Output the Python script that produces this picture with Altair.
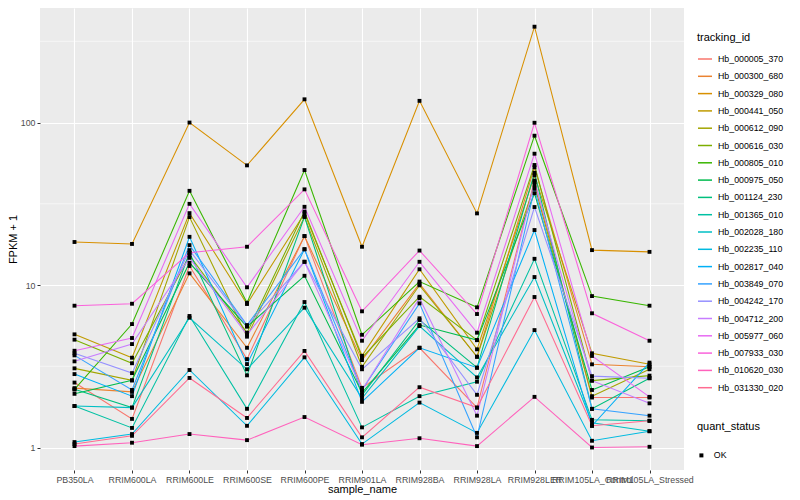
import altair as alt
import pandas as pd

samples = ["PB350LA", "RRIM600LA", "RRIM600LE", "RRIM600SE", "RRIM600PE", "RRIM901LA",
           "RRIM928BA", "RRIM928LA", "RRIM928LER", "RRIM105LA_Control", "RRIM105LA_Stressed"]

ids = ["Hb_000005_370", "Hb_000300_680", "Hb_000329_080", "Hb_000441_050", "Hb_000612_090",
       "Hb_000616_030", "Hb_000805_010", "Hb_000975_050", "Hb_001124_230", "Hb_001365_010",
       "Hb_002028_180", "Hb_002235_110", "Hb_002817_040", "Hb_003849_070", "Hb_004242_170",
       "Hb_004712_200", "Hb_005977_060", "Hb_007933_030", "Hb_010620_030", "Hb_031330_020"]

colors = ["#F8766D", "#EA8331", "#D89000", "#C09B00", "#A3A500", "#7CAE00", "#39B600", "#00BB4E",
          "#00BF7D", "#00C1A3", "#00BFC4", "#00BAE0", "#00B0F6", "#35A2FF", "#9590FF", "#C77CFF",
          "#E76BF3", "#FA62DB", "#FF62BC", "#FF6C91"]

# FPKM + 1 per sample (same order as samples)
hb_000005_370 = [2.51, 1.50, 13.1, 3.50, 20.0, 2.33, 4.11, 1.76, 43.9, 2.03, 2.03]
hb_000300_680 = [2.32, 2.20, 11.8, 4.11, 20.0, 3.45, 10.2, 3.62, 53.0, 3.25, 3.14]
hb_000329_080 = [18.4, 17.9, 100.0, 54.5, 139.0, 17.2, 136.0, 27.6, 389.0, 16.4, 16.0]
hb_000441_050 = [4.97, 3.57, 27.7, 7.64, 27.6, 3.67, 12.5, 4.02, 47.3, 3.80, 3.25]
hb_000612_090 = [3.07, 2.59, 26.2, 4.81, 26.3, 3.14, 9.96, 3.62, 41.2, 2.07, 3.03]
hb_000616_030 = [4.61, 3.30, 15.2, 5.09, 28.3, 3.57, 8.47, 4.58, 54.8, 2.58, 2.77]
hb_000805_010 = [2.28, 5.75, 38.0, 7.78, 51.0, 4.94, 10.5, 7.29, 83.0, 8.55, 7.46]
hb_000975_050 = [2.14, 2.59, 13.7, 5.54, 11.4, 2.17, 5.67, 4.58, 36.7, 2.26, 3.14]
hb_001124_230 = [2.28, 1.76, 15.8, 2.78, 26.3, 2.10, 6.09, 3.10, 49.1, 1.73, 2.67]
hb_001365_010 = [1.80, 1.32, 6.45, 1.73, 7.86, 1.33, 2.07, 2.54, 14.5, 1.48, 1.46]
hb_002028_180 = [1.80, 1.76, 6.29, 3.03, 7.25, 2.01, 5.59, 2.70, 11.2, 1.42, 1.26]
hb_002235_110 = [1.08, 1.21, 3.00, 1.36, 3.59, 1.05, 1.89, 1.23, 5.28, 1.10, 1.26]
hb_002817_040 = [2.83, 2.07, 19.8, 3.26, 16.6, 1.91, 4.11, 3.10, 21.8, 1.36, 3.33]
hb_003849_070 = [3.69, 2.26, 17.6, 5.67, 16.6, 2.26, 7.71, 1.155, 39.1, 1.73, 1.57]
hb_004242_170 = [3.80, 2.87, 16.4, 5.59, 13.9, 3.03, 6.24, 2.11, 30.2, 2.75, 2.67]
hb_004712_200 = [3.39, 4.33, 14.7, 4.93, 13.9, 2.26, 8.30, 1.57, 43.0, 2.58, 1.87]
hb_005977_060 = [3.94, 4.72, 31.6, 9.68, 30.3, 4.54, 13.9, 5.09, 64.3, 3.66, 2.05]
hb_007933_030 = [7.46, 7.67, 15.8, 17.2, 38.8, 6.89, 16.3, 6.63, 99.7, 6.70, 4.54]
hb_010620_030 = [1.02, 1.07, 1.21, 1.11, 1.54, 1.04, 1.14, 1.02, 2.05, 1.00, 1.01]
hb_031330_020 = [1.05, 1.18, 2.68, 1.52, 3.93, 1.155, 2.35, 1.76, 8.44, 1.36, 1.46]

series = [hb_000005_370, hb_000300_680, hb_000329_080, hb_000441_050, hb_000612_090,
          hb_000616_030, hb_000805_010, hb_000975_050, hb_001124_230, hb_001365_010,
          hb_002028_180, hb_002235_110, hb_002817_040, hb_003849_070, hb_004242_170,
          hb_004712_200, hb_005977_060, hb_007933_030, hb_010620_030, hb_031330_020]

minor_breaks = [3.1623, 31.623, 316.23]
y_breaks = [1, 10, 100]

rows = []
for tid, vals in zip(ids, series):
    for i, (s, v) in enumerate(zip(samples, vals)):
        rows.append({"tracking_id": tid, "sample_name": s, "value": v,
                     "quant_status": "OK", "x_order": i})
df = pd.DataFrame(rows)

FONT = "Liberation Sans"

xscale = alt.Scale(type="point", padding=0.6, domain=samples)
x_axis = alt.Axis(title="sample_name", grid=True, gridColor="white", gridWidth=1.1,
                  domain=False, tickColor="#333333", tickSize=3, tickWidth=1,
                  labelColor="#4D4D4D", labelFontSize=8.8, labelAngle=0,
                  labelPadding=2, titleFontSize=11, titleColor="black",
                  titleFontWeight="normal", titlePadding=0, labelOverlap=False,
                  labelFont=FONT, titleFont=FONT)
yscale = alt.Scale(type="log", domain=[0.727, 507], nice=False)
y_axis = alt.Axis(title="FPKM + 1", values=y_breaks, format="d", grid=True,
                  gridColor="white", gridWidth=1.1, domain=False,
                  tickColor="#333333", tickSize=3, tickWidth=1, labelColor="#4D4D4D",
                  labelFontSize=8.8, labelPadding=2, titleFontSize=11,
                  titleColor="black", titleFontWeight="normal", titlePadding=2,
                  labelFont=FONT, titleFont=FONT)

x_enc = alt.X("sample_name:N", sort=samples, scale=xscale, axis=x_axis)
y_enc = alt.Y("value:Q", scale=yscale, axis=y_axis)

minor = alt.Chart(pd.DataFrame({"value": minor_breaks})).mark_rule(
    color="white", strokeWidth=0.55).encode(y=y_enc)

lines = alt.Chart(df).mark_line(strokeWidth=1.07).encode(
    x=x_enc, y=y_enc,
    color=alt.Color("tracking_id:N", sort=ids,
                    scale=alt.Scale(domain=ids, range=colors),
                    legend=alt.Legend(title="tracking_id", orient="none", legendX=657, legendY=24,
                                      symbolType="stroke", symbolSize=196, symbolStrokeWidth=1.5,
                                      rowPadding=4.3, labelFontSize=8.8, titleFontSize=11,
                                      titleFontWeight="normal", titleColor="black",
                                      labelColor="black", titlePadding=8, padding=0,
                                      labelFont=FONT, titleFont=FONT, labelOffset=5)),
    detail="tracking_id:N",
    order=alt.Order("x_order:Q")
)

points = alt.Chart(df).mark_point(filled=True, opacity=1, color="black", size=15).encode(
    x=x_enc, y=y_enc,
    shape=alt.Shape("quant_status:N", scale=alt.Scale(domain=["OK"], range=["square"]),
                    legend=alt.Legend(title="quant_status", orient="none", legendX=657, legendY=413,
                                      symbolSize=16, symbolFillColor="black", symbolStrokeColor="black",
                                      labelFontSize=8.8, titleFontSize=11, titleFontWeight="normal",
                                      titleColor="black", labelColor="black", titlePadding=19,
                                      padding=0, labelFont=FONT, titleFont=FONT, labelOffset=8))
)

chart = alt.layer(minor, lines, points).properties(
    width=644, height=462,
    autosize=alt.AutoSizeParams(type="none"),
    padding={"left": 32, "top": 0, "right": 108, "bottom": 30}
).resolve_scale(
    color="independent", shape="independent"
).configure(font=FONT).configure_view(fill="#EBEBEB", strokeWidth=0)

chart.save("out.html", embed_options={"renderer": "svg", "actions": False})
